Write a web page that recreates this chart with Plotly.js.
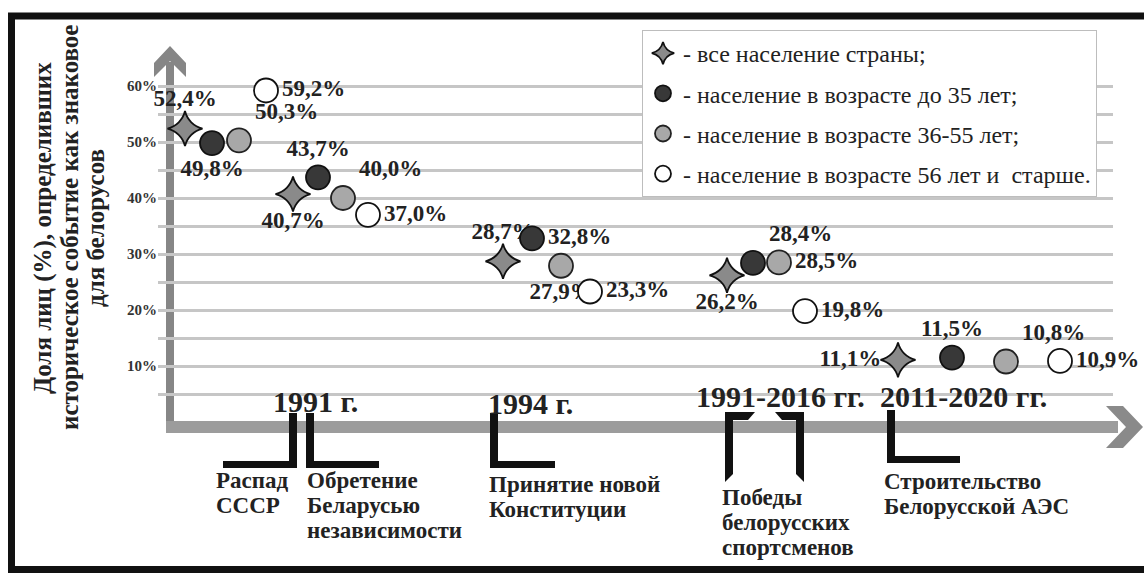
<!DOCTYPE html>
<html>
<head>
<meta charset="utf-8">
<script src="https://cdn.plot.ly/plotly-3.0.1.min.js"></script>
<style>html,body{margin:0;padding:0;background:#fff;}#chart{width:1144px;height:574px;}</style>
</head>
<body>
<div id="chart"></div>
<script>
// ---------- data ----------
const seriesNames = [
  '- все население страны;',
  '- население в возрасте до 35 лет;',
  '- население в возрасте 36-55 лет;',
  '- население в возрасте 56 лет и  старше.'
];
const events = [['Распад', 'СССР'], ['Обретение', 'Беларусью', 'независимости'], ['Принятие новой', 'Конституции'],
                ['Победы', 'белорусских', 'спортсменов'], ['Строительство', 'Белорусской АЭС']];
const periods = ['1991 г.', '1994 г.', '1991-2016 гг.', '2011-2020 гг.'];
const allPopulation = [52.4, 40.7, 28.7, 26.2, 11.1];
const under35 = [49.8, 43.7, 32.8, 28.4, 11.5];
const age36to55 = [50.3, 40.0, 27.9, 28.5, 10.8];
const over56 = [59.2, 37.0, 23.3, 19.8, 10.9];
const yTickVals = [5, 10, 15, 20, 25, 30, 35, 40, 45, 50, 55, 60];
const yTickText = ['', '10%', '', '20%', '', '30%', '', '40%', '', '50%', '', '60%'];
const yTitleLines = ['Доля лиц (%), определивших', 'историческое событие как знаковое', 'для белорусов'];

// ---------- layout helpers (pixel geometry) ----------
const FW = 1144, FH = 574, L = 158, R = 1113, W = R - L;
const Y0PX = 422, PX_PER_PCT = 5.6;
const PX = x => (x - L) / W;
const PY = y => 1 - y / FH;
const groupStart = [185, 293, 503, 727, 898];
const groupStep = [27, 25, 29, 26, 54];
const xFor = s => groupStart.map((g, i) => g + s * groupStep[i]);
const fmt = v => '<b>' + v.toFixed(1).replace('.', ',') + '%</b>';
const serif = 'Liberation Serif';

const values = [allPopulation, under35, age36to55, over56];
const styles = [
  {symbol: 'star-diamond', size: 25, color: '#8a8a8a', line: '#111', pos: ['top center','bottom center','top center','bottom center','middle left']},
  {symbol: 'circle', size: 24, color: '#383838', line: '#111', pos: ['bottom center','top center','middle right','top right','top center']},
  {symbol: 'circle', size: 24, color: '#a8a8a8', line: '#222', pos: ['top right','top right','bottom center','middle right','top right']},
  {symbol: 'circle', size: 24, color: '#ffffff', line: '#111', pos: ['middle right','middle right','middle right','middle right','middle right']}
];

const traces = values.map((vals, s) => ({
  type: 'scatter', mode: 'markers+text', name: seriesNames[s], legendgroup: 'g' + s,
  x: xFor(s), y: vals, text: vals.map(fmt), textposition: styles[s].pos,
  textfont: {family: serif, size: 23, color: '#222'},
  marker: {symbol: styles[s].symbol, size: styles[s].size, color: styles[s].color,
           line: {color: styles[s].line, width: 1.8}},
  cliponaxis: false, hoverinfo: 'skip'
}));

const poly = pts => 'M' + pts.map(p => PX(p[0]) + ',' + PY(p[1])).join(' L') + ' Z';
const rect = (x0, y0, x1, y1, color, layer) => ({type: 'rect', xref: 'paper', yref: 'paper',
  x0: PX(x0), x1: PX(x1), y0: PY(y1), y1: PY(y0), fillcolor: color, line: {width: 0}, layer: layer || 'above'});
const path = (pts, color, layer) => ({type: 'path', xref: 'paper', yref: 'paper', path: poly(pts),
  fillcolor: color, line: {width: 0}, layer: layer || 'above'});

const shapes = [
  // frame
  {type: 'rect', xref: 'paper', yref: 'paper', x0: PX(11.5), x1: PX(1170), y0: PY(569.5), y1: PY(16),
   line: {color: '#111', width: 7}, fillcolor: 'rgba(0,0,0,0)'},
  // axes arrows
  rect(166, 62, 174, 433, '#868686', 'between'),
  path([[154,63],[170,46],[186,63],[186,77],[170,61],[154,77]], '#868686', 'between'),
  rect(166, 421, 1118, 433, '#9c9c9c', 'between'),
  path([[1106,406],[1123,406],[1143,427],[1123,448],[1106,448],[1126,427]], '#8a8a8a', 'between'),
  // brackets
  rect(289, 413, 297, 468, '#111'), rect(223, 461, 297, 468, '#111'),
  rect(306, 413, 314, 468, '#111'), rect(306, 461, 379, 468, '#111'),
  rect(490, 413, 498, 468, '#111'), rect(490, 461, 555, 468, '#111'),
  path([[725,412],[755,412],[748,420],[733,420],[733,474],[725,482]], '#111'),
  path([[775,412],[804,412],[804,482],[796,474],[796,420],[782,420]], '#111'),
  rect(887, 410, 895, 463, '#111'), rect(887, 456, 960, 463, '#111')
];

const ann = (text, x, y, size, xanchor, extra) => Object.assign({
  text: '<b>' + text + '</b>', xref: 'paper', yref: 'paper', x: PX(x), y: PY(y), xanchor: xanchor || 'left', yanchor: 'middle',
  showarrow: false, align: 'left', font: {family: serif, size: size, color: '#222'}
}, extra || {});

const annotations = [];
const titleX = [43, 69, 95];
yTitleLines.forEach((t, i) => annotations.push(ann(t, titleX[i], 228, 25, 'center', {align: 'center', textangle: -90})));
const periodPos = [[271, 401], [486, 403], [694, 396], [878, 396]];
periods.forEach((p, i) => annotations.push(ann(p, periodPos[i][0], periodPos[i][1], 30)));
const eventPos = [[214, 480], [305, 480], [487, 484], [720, 497], [882, 481]];
events.forEach((lines, i) => lines.forEach((t, j) =>
  annotations.push(ann(t, eventPos[i][0], eventPos[i][1] + j * 25, 23))));

const layout = {
  width: FW, height: FH, margin: {l: L, r: FW - R, t: 0, b: 0},
  paper_bgcolor: '#fff', plot_bgcolor: 'rgba(0,0,0,0)',
  showlegend: true,
  legend: {x: PX(642), y: PY(30), xanchor: 'left', yanchor: 'top', bgcolor: '#fff',
           bordercolor: '#bdbdbd', borderwidth: 1, tracegroupgap: 6,
           font: {family: serif, size: 24, color: '#222'}},
  xaxis: {range: [L, R], visible: false, fixedrange: true},
  yaxis: {range: [(Y0PX - FH) / PX_PER_PCT, Y0PX / PX_PER_PCT], tickvals: yTickVals, ticktext: yTickText,
          showgrid: true, gridcolor: '#c6c6c6', gridwidth: 3, zeroline: false, showline: false, ticks: '',
          tickfont: {family: serif, size: 15, color: '#333', weight: 'bold'}, fixedrange: true},
  shapes: shapes, annotations: annotations
};

Plotly.newPlot('chart', traces, layout, {displayModeBar: false, staticPlot: true});
</script>
</body>
</html>
